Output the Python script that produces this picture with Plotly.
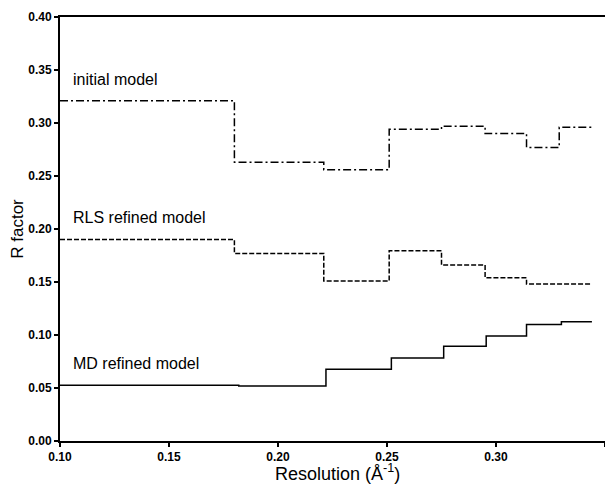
import plotly.graph_objects as go

# Resolution bin edges (Å^-1) and R factors per bin
init_edges = [0.10, 0.180, 0.221, 0.251, 0.275, 0.295, 0.314, 0.329, 0.344]
init_r = [0.321, 0.263, 0.256, 0.294, 0.297, 0.290, 0.277, 0.296]

rls_edges = [0.10, 0.180, 0.221, 0.251, 0.275, 0.295, 0.314, 0.344]
rls_r = [0.190, 0.177, 0.151, 0.1795, 0.166, 0.154, 0.148]

md_edges = [0.10, 0.182, 0.222, 0.252, 0.276, 0.2955, 0.314, 0.330, 0.344]
md_r = [0.0525, 0.052, 0.0676, 0.0783, 0.0893, 0.099, 0.110, 0.1126]

x_ticks = [0.10, 0.15, 0.20, 0.25, 0.30, 0.35]
y_ticks = [0.00, 0.05, 0.10, 0.15, 0.20, 0.25, 0.30, 0.35, 0.40]

labels = ["initial model", "RLS refined model", "MD refined model"]
label_x = [0.105, 0.105, 0.105]
label_y = [0.341, 0.211, 0.073]

x_title = "Resolution (Å<sup>-1</sup>)"
y_title = "R factor"


def step(edges, vals):
    return edges, vals + [vals[-1]]


fig = go.Figure()
for edges, vals, dash in [(init_edges, init_r, "8px,3px,2px,3px"),
                          (rls_edges, rls_r, "5px,2px"),
                          (md_edges, md_r, "solid")]:
    xs, ys = step(edges, vals)
    fig.add_trace(go.Scatter(x=xs, y=ys, mode="lines", line_shape="hv",
                             line=dict(color="black", width=1.5, dash=dash),
                             showlegend=False, hoverinfo="skip"))

for t, xx, yy in zip(labels, label_x, label_y):
    fig.add_annotation(x=xx, y=yy, text=t, showarrow=False, xanchor="left",
                       yanchor="middle", font=dict(size=16, color="black"))

# x-axis title placed as an annotation for precise positioning
fig.add_annotation(x=0.51, y=0, xref="paper", yref="paper", text=x_title,
                   showarrow=False, xanchor="center", yanchor="middle", yshift=-31,
                   font=dict(size=18, color="black"))

axis_common = dict(showgrid=False, zeroline=False, showline=True, linecolor="black",
                   linewidth=2, mirror=True, ticks="outside", ticklen=4, tickwidth=1.5,
                   tickcolor="black", automargin=False,
                   tickfont=dict(size=12, color="black", family="Liberation Sans"))

fig.update_xaxes(range=[0.10, 0.35], tickvals=x_ticks,
                 ticktext=[f"<b>{v:.2f}</b>" for v in x_ticks],
                 **axis_common)
fig.update_yaxes(range=[0.0, 0.40], tickvals=y_ticks,
                 ticktext=[f"<b>{v:.2f}</b>" for v in y_ticks],
                 title=dict(text=y_title, font=dict(size=17, color="black"), standoff=5),
                 **axis_common)

# the page body adds an 8px offset, so the figure is sized to compensate
fig.update_layout(width=605, height=476, margin=dict(l=52, r=8, t=9, b=43),
                  plot_bgcolor="white", paper_bgcolor="white",
                  font=dict(family="Liberation Sans, Arial", color="black"))

fig.write_html("out.html")
